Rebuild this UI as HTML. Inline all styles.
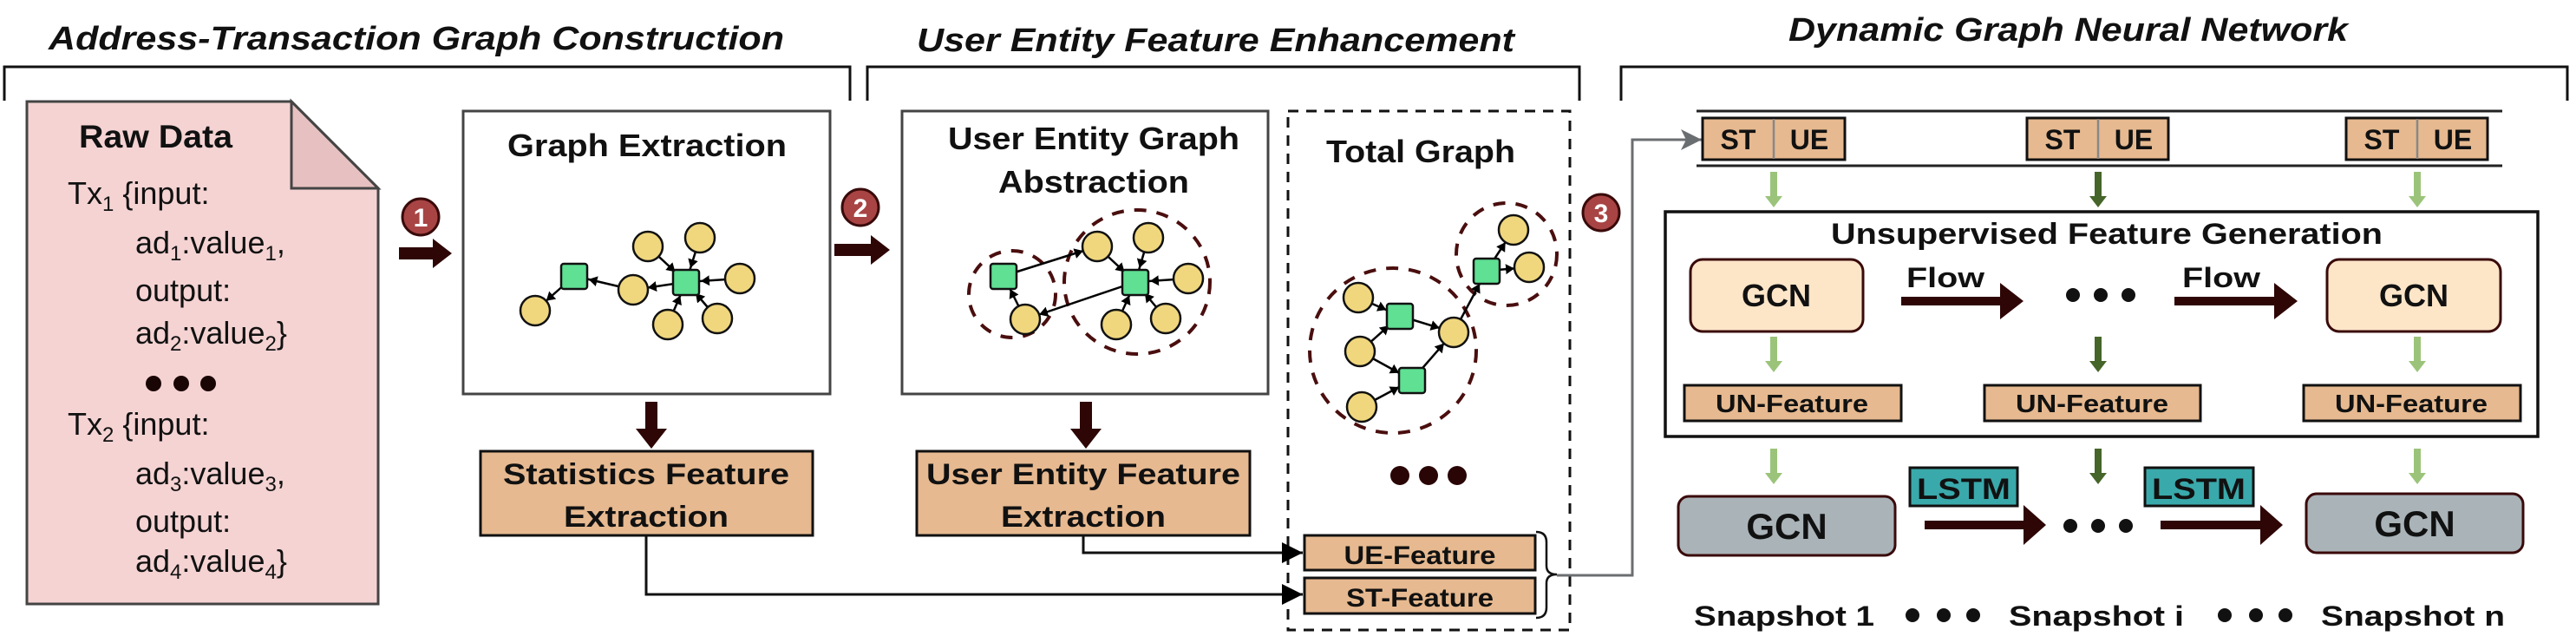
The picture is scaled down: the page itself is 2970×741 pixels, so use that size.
<!DOCTYPE html>
<html><head><meta charset="utf-8"><style>
html,body{margin:0;padding:0;background:#fff;}
svg{display:block;}
text{font-family:"Liberation Sans",sans-serif;font-weight:bold;fill:#111;}
</style></head><body>
<svg width="2970" height="741" viewBox="0 0 2970 741" xmlns="http://www.w3.org/2000/svg">
<defs>
<marker id="ah" markerUnits="userSpaceOnUse" markerWidth="40" markerHeight="20" refX="27" refY="6" orient="auto">
<path d="M0,0 L10,6 L0,12 z" fill="#000"/></marker>
<marker id="bh" markerUnits="userSpaceOnUse" markerWidth="30" markerHeight="30" refX="24" refY="12" orient="auto">
<path d="M0,0 L24,12 L0,24 z" fill="#000"/></marker>
<marker id="gh" markerUnits="userSpaceOnUse" markerWidth="30" markerHeight="30" refX="24" refY="12" orient="auto">
<path d="M0,0 L24,12 L0,24 L6,12 z" fill="#6b6e70"/></marker>
</defs>

<!-- Titles -->
<text x="56" y="57" font-size="38" font-style="italic" textLength="848" lengthAdjust="spacingAndGlyphs">Address-Transaction Graph Construction</text>
<text x="1057" y="59" font-size="38" font-style="italic" textLength="689" lengthAdjust="spacingAndGlyphs">User Entity Feature Enhancement</text>
<text x="2062" y="47" font-size="38" font-style="italic" textLength="645" lengthAdjust="spacingAndGlyphs">Dynamic Graph Neural Network</text>

<!-- Brackets -->
<g fill="none" stroke="#111" stroke-width="3">
<path d="M5,116 V77 H980 V116"/>
<path d="M1000,116 V77 H1821 V116"/>
<path d="M1869,116 V77 H2960 V116"/>
</g>

<!-- Raw data document -->
<path d="M31,117 H336 L436,217 V696 H31 Z" fill="#f5d3d3" stroke="#444" stroke-width="3"/>
<path d="M336,117 V217 H436 Z" fill="#e7c1c1" stroke="#444" stroke-width="3"/>
<text x="91" y="170" font-size="37" textLength="177" lengthAdjust="spacingAndGlyphs">Raw Data</text>
<g font-size="36" style="font-weight:normal">
<text x="78" y="235" style="font-weight:normal">Tx<tspan font-size="24" dy="8">1</tspan><tspan dy="-8"> {input:</tspan></text>
<text x="156" y="292" style="font-weight:normal">ad<tspan font-size="24" dy="8">1</tspan><tspan dy="-8">:value</tspan><tspan font-size="24" dy="8">1</tspan><tspan dy="-8">,</tspan></text>
<text x="156" y="347" style="font-weight:normal">output:</text>
<text x="156" y="396" style="font-weight:normal">ad<tspan font-size="24" dy="8">2</tspan><tspan dy="-8">:value</tspan><tspan font-size="24" dy="8">2</tspan><tspan dy="-8">}</tspan></text>
<text x="78" y="501" style="font-weight:normal">Tx<tspan font-size="24" dy="8">2</tspan><tspan dy="-8"> {input:</tspan></text>
<text x="156" y="558" style="font-weight:normal">ad<tspan font-size="24" dy="8">3</tspan><tspan dy="-8">:value</tspan><tspan font-size="24" dy="8">3</tspan><tspan dy="-8">,</tspan></text>
<text x="156" y="613" style="font-weight:normal">output:</text>
<text x="156" y="659" style="font-weight:normal">ad<tspan font-size="24" dy="8">4</tspan><tspan dy="-8">:value</tspan><tspan font-size="24" dy="8">4</tspan><tspan dy="-8">}</tspan></text>
</g>
<g fill="#1a0505"><circle cx="177" cy="442" r="9"/><circle cx="209" cy="442" r="9"/><circle cx="240" cy="442" r="9"/></g>

<!-- numbered circles -->
<g stroke="#3a0a0a" stroke-width="3" fill="#a84444">
<circle cx="485" cy="250" r="21"/><circle cx="992" cy="239" r="21"/><circle cx="1846" cy="245" r="21"/>
</g>
<g font-size="30" text-anchor="middle" style="fill:#fff">
<text x="485" y="261" style="fill:#fff">1</text><text x="992" y="250" style="fill:#fff">2</text><text x="1846" y="256" style="fill:#fff">3</text>
</g>

<!-- thick arrows -->
<g fill="#2e0606">
<path d="M460,285 H499 V275 L521,292 L499,309 V299 H460 Z"/>
<path d="M962,281 H1004 V271 L1026,288 L1004,305 V295 H962 Z"/>
<path d="M744,463 H758 V494 H769 L751,517 L733,494 H744 Z"/>
<path d="M1245,463 H1259 V494 H1270 L1252,517 L1234,494 H1245 Z"/>
<!-- flow arrows -->
<path d="M2192,342 H2306 V326 L2333,347 L2306,368 V352 H2192 Z"/>
<path d="M2507,342 H2622 V326 L2649,347 L2622,368 V352 H2507 Z"/>
<path d="M2219,600 H2333 V582 L2359,605 L2333,628 V610 H2219 Z"/>
<path d="M2491,600 H2606 V582 L2632,605 L2606,628 V610 H2491 Z"/>
</g>

<!-- Graph Extraction box -->
<rect x="534" y="128" width="423" height="326" fill="#fff" stroke="#444" stroke-width="3"/>
<text x="746" y="180" font-size="36" text-anchor="middle" textLength="322" lengthAdjust="spacingAndGlyphs">Graph Extraction</text>
<g stroke="#000" stroke-width="2.5" marker-end="url(#ah)">
<line x1="662" y1="318" x2="617" y2="358"/>
<line x1="730" y1="334" x2="662" y2="318"/>
<line x1="791" y1="325" x2="730" y2="334"/>
<line x1="747" y1="284" x2="791" y2="325"/>
<line x1="807" y1="274" x2="791" y2="325"/>
<line x1="853" y1="321" x2="791" y2="325"/>
<line x1="827" y1="367" x2="791" y2="325"/>
<line x1="770" y1="374" x2="791" y2="325"/>
</g>
<g fill="#f0d77e" stroke="#111" stroke-width="2.5">
<circle cx="617" cy="358" r="17"/><circle cx="730" cy="334" r="17"/><circle cx="747" cy="284" r="17"/><circle cx="807" cy="274" r="17"/><circle cx="853" cy="321" r="17"/><circle cx="827" cy="367" r="17"/><circle cx="770" cy="374" r="17"/>
</g>
<g fill="#5fe093" stroke="#111" stroke-width="2.5">
<rect x="647" y="304" width="30" height="29" rx="3"/><rect x="776" y="311" width="30" height="29" rx="3"/>
</g>

<!-- Stats box -->
<rect x="554" y="520" width="383" height="97" fill="#e6b990" stroke="#111" stroke-width="3"/>
<text x="745" y="558" font-size="34" text-anchor="middle" textLength="330" lengthAdjust="spacingAndGlyphs">Statistics Feature</text>
<text x="745" y="607" font-size="34" text-anchor="middle" textLength="190" lengthAdjust="spacingAndGlyphs">Extraction</text>

<!-- UEG box -->
<rect x="1040" y="128" width="422" height="326" fill="#fff" stroke="#444" stroke-width="3"/>
<text x="1261" y="172" font-size="36" text-anchor="middle" textLength="336" lengthAdjust="spacingAndGlyphs">User Entity Graph</text>
<text x="1261" y="222" font-size="36" text-anchor="middle" textLength="220" lengthAdjust="spacingAndGlyphs">Abstraction</text>
<g fill="none" stroke="#4a0e0e" stroke-width="4" stroke-dasharray="14,12">
<ellipse cx="1167" cy="339" rx="50" ry="50"/><ellipse cx="1311" cy="325" rx="84" ry="83"/>
</g>
<g stroke="#000" stroke-width="2.5" marker-end="url(#ah)">
<line x1="1157" y1="318" x2="1265" y2="284"/>
<line x1="1182" y1="368" x2="1157" y2="318"/>
<line x1="1309" y1="325" x2="1182" y2="368"/>
<line x1="1265" y1="284" x2="1309" y2="325"/>
<line x1="1324" y1="274" x2="1309" y2="325"/>
<line x1="1370" y1="321" x2="1309" y2="325"/>
<line x1="1344" y1="367" x2="1309" y2="325"/>
<line x1="1287" y1="374" x2="1309" y2="325"/>
</g>
<g fill="#f0d77e" stroke="#111" stroke-width="2.5">
<circle cx="1182" cy="368" r="17"/><circle cx="1265" cy="284" r="17"/><circle cx="1324" cy="274" r="17"/><circle cx="1370" cy="321" r="17"/><circle cx="1344" cy="367" r="17"/><circle cx="1287" cy="374" r="17"/>
</g>
<g fill="#5fe093" stroke="#111" stroke-width="2.5">
<rect x="1142" y="304" width="30" height="29" rx="3"/><rect x="1294" y="311" width="30" height="29" rx="3"/>
</g>

<!-- UEF box -->
<rect x="1057" y="520" width="384" height="97" fill="#e6b990" stroke="#111" stroke-width="3"/>
<text x="1249" y="558" font-size="34" text-anchor="middle" textLength="362" lengthAdjust="spacingAndGlyphs">User Entity Feature</text>
<text x="1249" y="607" font-size="34" text-anchor="middle" textLength="190" lengthAdjust="spacingAndGlyphs">Extraction</text>

<!-- Total graph -->
<rect x="1485" y="128" width="325" height="598" fill="none" stroke="#111" stroke-width="3" stroke-dasharray="12,9"/>
<text x="1638" y="187" font-size="36" text-anchor="middle" textLength="218" lengthAdjust="spacingAndGlyphs">Total Graph</text>
<g fill="none" stroke="#4a0e0e" stroke-width="4" stroke-dasharray="14,12">
<ellipse cx="1606" cy="404" rx="96" ry="95"/><ellipse cx="1737" cy="293" rx="58" ry="59"/>
</g>
<g stroke="#000" stroke-width="2.5" marker-end="url(#ah)">
<line x1="1566" y1="343" x2="1614" y2="364"/>
<line x1="1568" y1="405" x2="1614" y2="364"/>
<line x1="1614" y1="364" x2="1676" y2="383"/>
<line x1="1568" y1="405" x2="1628" y2="438"/>
<line x1="1570" y1="469" x2="1628" y2="438"/>
<line x1="1628" y1="438" x2="1676" y2="383"/>
<line x1="1676" y1="383" x2="1714" y2="312"/>
<line x1="1714" y1="312" x2="1745" y2="265"/>
<line x1="1714" y1="312" x2="1763" y2="308"/>
</g>
<g fill="#f0d77e" stroke="#111" stroke-width="2.5">
<circle cx="1566" cy="343" r="17"/><circle cx="1568" cy="405" r="17"/><circle cx="1570" cy="469" r="17"/><circle cx="1676" cy="383" r="17"/><circle cx="1745" cy="265" r="17"/><circle cx="1763" cy="308" r="17"/>
</g>
<g fill="#5fe093" stroke="#111" stroke-width="2.5">
<rect x="1599" y="350" width="30" height="29" rx="3"/><rect x="1699" y="298" width="30" height="29" rx="3"/><rect x="1613" y="424" width="30" height="29" rx="3"/>
</g>
<g fill="#2a0505"><circle cx="1614" cy="548" r="11"/><circle cx="1647" cy="548" r="11"/><circle cx="1680" cy="548" r="11"/></g>

<!-- feature boxes -->
<rect x="1504" y="617" width="266" height="40" fill="#e6b990" stroke="#111" stroke-width="3"/>
<rect x="1504" y="666" width="266" height="41" fill="#e6b990" stroke="#111" stroke-width="3"/>
<text x="1637" y="650" font-size="30" text-anchor="middle" textLength="175" lengthAdjust="spacingAndGlyphs">UE-Feature</text>
<text x="1637" y="699" font-size="30" text-anchor="middle" textLength="170" lengthAdjust="spacingAndGlyphs">ST-Feature</text>
<path d="M1771,613 Q1783,613 1783,625 V652 Q1783,662 1795,662 Q1783,662 1783,672 V700 Q1783,712 1771,712" fill="none" stroke="#111" stroke-width="2.5"/>

<!-- connectors -->
<g fill="none" stroke="#111" stroke-width="3">
<path d="M745,617 V685 H1502" marker-end="url(#bh)"/>
<path d="M1249,617 V637 H1502" marker-end="url(#bh)"/>
</g>
<path d="M1795,663 H1882 V161 H1962" fill="none" stroke="#6b6e70" stroke-width="3" marker-end="url(#gh)"/>

<!-- DGNN top -->
<g stroke="#222" stroke-width="3"><line x1="1956" y1="128" x2="2885" y2="128"/><line x1="1956" y1="191" x2="2885" y2="191"/></g>
<g fill="#e6b990" stroke="#111" stroke-width="3">
<rect x="1963" y="136" width="164" height="48"/><rect x="2337" y="136" width="163" height="48"/><rect x="2705" y="136" width="163" height="48"/>
</g>
<g stroke="#888" stroke-width="2.5"><line x1="2045" y1="137" x2="2045" y2="183"/><line x1="2419" y1="137" x2="2419" y2="183"/><line x1="2787" y1="137" x2="2787" y2="183"/></g>
<g font-size="32">
<text x="2004" y="172" text-anchor="middle">ST</text><text x="2086" y="172" text-anchor="middle">UE</text>
<text x="2378" y="172" text-anchor="middle">ST</text><text x="2460" y="172" text-anchor="middle">UE</text>
<text x="2746" y="172" text-anchor="middle">ST</text><text x="2828" y="172" text-anchor="middle">UE</text>
</g>

<!-- green arrows -->
<g id="ga">
<path d="M2041,198 H2049 V226 H2055 L2045,239 L2035,226 H2041 Z" fill="#9bc47a"/>
<path d="M2415,198 H2423 V226 H2429 L2419,239 L2409,226 H2415 Z" fill="#46652a"/>
<path d="M2783,198 H2791 V226 H2797 L2787,239 L2777,226 H2783 Z" fill="#9bc47a"/>
</g>
<g transform="translate(0,190)">
<path d="M2041,198 H2049 V226 H2055 L2045,239 L2035,226 H2041 Z" fill="#9bc47a"/>
<path d="M2415,198 H2423 V226 H2429 L2419,239 L2409,226 H2415 Z" fill="#46652a"/>
<path d="M2783,198 H2791 V226 H2797 L2787,239 L2777,226 H2783 Z" fill="#9bc47a"/>
</g>
<g transform="translate(0,319)">
<path d="M2041,198 H2049 V226 H2055 L2045,239 L2035,226 H2041 Z" fill="#9bc47a"/>
<path d="M2415,198 H2423 V226 H2429 L2419,239 L2409,226 H2415 Z" fill="#46652a"/>
<path d="M2783,198 H2791 V226 H2797 L2787,239 L2777,226 H2783 Z" fill="#9bc47a"/>
</g>

<!-- UFG box -->
<rect x="1920" y="244" width="1006" height="259" fill="none" stroke="#111" stroke-width="3.5"/>
<text x="2429" y="281" font-size="34" text-anchor="middle" textLength="636" lengthAdjust="spacingAndGlyphs">Unsupervised Feature Generation</text>
<g fill="#fde5c8" stroke="#3a0a0a" stroke-width="3">
<rect x="1949" y="299" width="199" height="83" rx="14"/><rect x="2683" y="299" width="200" height="83" rx="14"/>
</g>
<text x="2048" y="353" font-size="36" text-anchor="middle">GCN</text>
<text x="2783" y="353" font-size="36" text-anchor="middle">GCN</text>
<text x="2198" y="331" font-size="32" textLength="90" lengthAdjust="spacingAndGlyphs">Flow</text>
<text x="2516" y="331" font-size="32" textLength="90" lengthAdjust="spacingAndGlyphs">Flow</text>
<g fill="#111"><circle cx="2390" cy="340" r="8"/><circle cx="2422" cy="340" r="8"/><circle cx="2454" cy="340" r="8"/></g>
<g fill="#e6b990" stroke="#111" stroke-width="3">
<rect x="1942" y="444" width="250" height="41"/><rect x="2288" y="444" width="249" height="41"/><rect x="2656" y="444" width="250" height="41"/>
</g>
<g font-size="29" text-anchor="middle">
<text x="2066" y="475" textLength="176" lengthAdjust="spacingAndGlyphs">UN-Feature</text>
<text x="2412" y="475" textLength="176" lengthAdjust="spacingAndGlyphs">UN-Feature</text>
<text x="2780" y="475" textLength="176" lengthAdjust="spacingAndGlyphs">UN-Feature</text>
</g>

<!-- bottom GCN -->
<g fill="#a9b3b8" stroke="#3a0a0a" stroke-width="3">
<rect x="1935" y="572" width="250" height="68" rx="12"/><rect x="2659" y="569" width="250" height="68" rx="12"/>
</g>
<text x="2060" y="621" font-size="42" text-anchor="middle">GCN</text>
<text x="2784" y="618" font-size="42" text-anchor="middle">GCN</text>
<g fill="#3aa9ab" stroke="#111" stroke-width="3">
<rect x="2202" y="539" width="124" height="44"/><rect x="2473" y="539" width="125" height="44"/>
</g>
<text x="2264" y="575" font-size="34" text-anchor="middle" textLength="108" lengthAdjust="spacingAndGlyphs">LSTM</text>
<text x="2535" y="575" font-size="34" text-anchor="middle" textLength="108" lengthAdjust="spacingAndGlyphs">LSTM</text>
<g fill="#111"><circle cx="2387" cy="606" r="8"/><circle cx="2419" cy="606" r="8"/><circle cx="2451" cy="606" r="8"/></g>

<!-- snapshots -->
<g font-size="32">
<text x="1953" y="721" textLength="208" lengthAdjust="spacingAndGlyphs">Snapshot 1</text>
<text x="2316" y="721" textLength="202" lengthAdjust="spacingAndGlyphs">Snapshot i</text>
<text x="2676" y="721" textLength="212" lengthAdjust="spacingAndGlyphs">Snapshot n</text>
</g>
<g fill="#111"><circle cx="2205" cy="709" r="8"/><circle cx="2241" cy="709" r="8"/><circle cx="2275" cy="709" r="8"/>
<circle cx="2565" cy="709" r="8"/><circle cx="2601" cy="709" r="8"/><circle cx="2635" cy="709" r="8"/></g>
</svg>
</body></html>
